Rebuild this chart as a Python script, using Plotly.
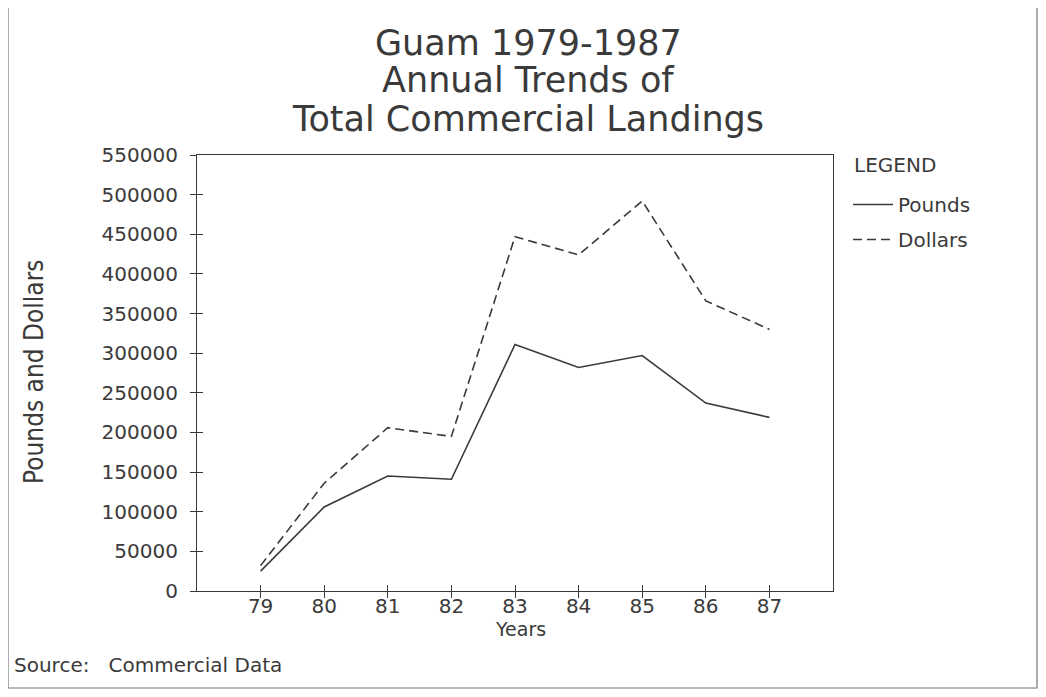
import plotly.graph_objects as go

years = [79, 80, 81, 82, 83, 84, 85, 86, 87]
pounds = [25000, 106000, 145000, 141000, 311000, 282000, 297000, 237000, 219000]
dollars = [32000, 136000, 206000, 195000, 447000, 424000, 492000, 366000, 330000]
y_ticks = list(range(0, 550001, 50000))
title_lines = ["Guam 1979-1987", "Annual Trends of", "Total Commercial Landings"]

FONT = "DejaVu Sans, sans-serif"
INK = "#3a3a3a"

# plot area in page pixels (page has an 8px body margin)
PX0, PX1, PY0, PY1 = 197, 833, 155, 591
PW, PH = PX1 - PX0, PY1 - PY0


def px(x):
    return (x - PX0) / PW


def py(y):
    return (PY1 - y) / PH


fig = go.Figure()
fig.add_trace(go.Scatter(x=years, y=pounds, mode="lines", name="Pounds", legendgroup="p",
                         line=dict(color=INK, width=1.6)))
fig.add_trace(go.Scatter(x=years, y=dollars, mode="lines", name="Dollars", legendgroup="d",
                         line=dict(color=INK, width=1.6, dash="9px,5px")))
fig.add_trace(go.Scatter(x=years, y=pounds, mode="lines", xaxis="x2", yaxis="y2",
                         line=dict(width=0), showlegend=False, hoverinfo="skip"))

axis_common = dict(showgrid=False, zeroline=False, showline=True, linecolor=INK,
                   linewidth=1.2, mirror=True, ticks="outside", ticklen=6,
                   tickcolor=INK, tickwidth=1.2,
                   tickfont=dict(family=FONT, size=20, color=INK))

W, H = 1030, 681
fig.update_layout(
    width=W, height=H,
    margin=dict(l=PX0 - 8, r=W - (PX1 - 8), t=PY0 - 8, b=H - (PY1 - 8)),
    paper_bgcolor="white", plot_bgcolor="white",
    xaxis=dict(range=[78, 88], tickvals=years, ticktext=[str(y) for y in years],
               ticklabelstandoff=-9, **axis_common),
    yaxis=dict(range=[0, 550000], tickvals=y_ticks, ticktext=[str(v) for v in y_ticks],
               ticklabelstandoff=8, **axis_common),
    xaxis2=dict(overlaying="x", matches="x", range=[78, 88], tickvals=years, ticks="inside",
                ticklen=6, tickcolor=INK, tickwidth=1.2, showticklabels=False,
                showgrid=False, zeroline=False, showline=False, side="bottom"),
    yaxis2=dict(overlaying="y", matches="y", range=[0, 550000], tickvals=y_ticks, ticks="inside",
                ticklen=6, tickcolor=INK, tickwidth=1.2, showticklabels=False,
                showgrid=False, zeroline=False, showline=False, side="left"),
    legend=dict(x=px(848), y=py(185), xanchor="left", yanchor="top",
                font=dict(family=FONT, size=20, color=INK),
                bgcolor="rgba(0,0,0,0)", itemwidth=40, tracegroupgap=6),
    showlegend=True,
)

title_y = [43, 80, 119]
for txt, yy in zip(title_lines, title_y):
    fig.add_annotation(text=txt, xref="paper", yref="paper", x=px(528), y=py(yy),
                       xanchor="center", yanchor="middle", showarrow=False,
                       font=dict(family=FONT, size=35, color=INK))

fig.add_annotation(text="LEGEND", xref="paper", yref="paper", x=px(852), y=py(165),
                   xanchor="left", yanchor="middle", showarrow=False,
                   font=dict(family=FONT, size=20, color=INK))
fig.add_annotation(text="Years", xref="paper", yref="paper", x=px(520), y=py(629),
                   xanchor="center", yanchor="middle", showarrow=False,
                   font=dict(family=FONT, size=19, color=INK))
fig.add_annotation(text="Pounds and Dollars", xref="paper", yref="paper", x=px(34), y=py(372),
                   xanchor="center", yanchor="middle", textangle=-90, showarrow=False,
                   font=dict(family="Liberation Sans Narrow, DejaVu Sans Condensed, sans-serif",
                             size=26, color=INK))
fig.add_annotation(text="Source:   Commercial Data", xref="paper", yref="paper",
                   x=px(12), y=py(665), xanchor="left", yanchor="middle", showarrow=False,
                   font=dict(family=FONT, size=20, color=INK))

fig.add_shape(type="rect", xref="paper", yref="paper",
              x0=px(8), x1=px(1037), y0=py(688), y1=py(7),
              line=dict(color="#777", width=1.2), fillcolor="rgba(0,0,0,0)", layer="below")

fig.write_html("out.html")
